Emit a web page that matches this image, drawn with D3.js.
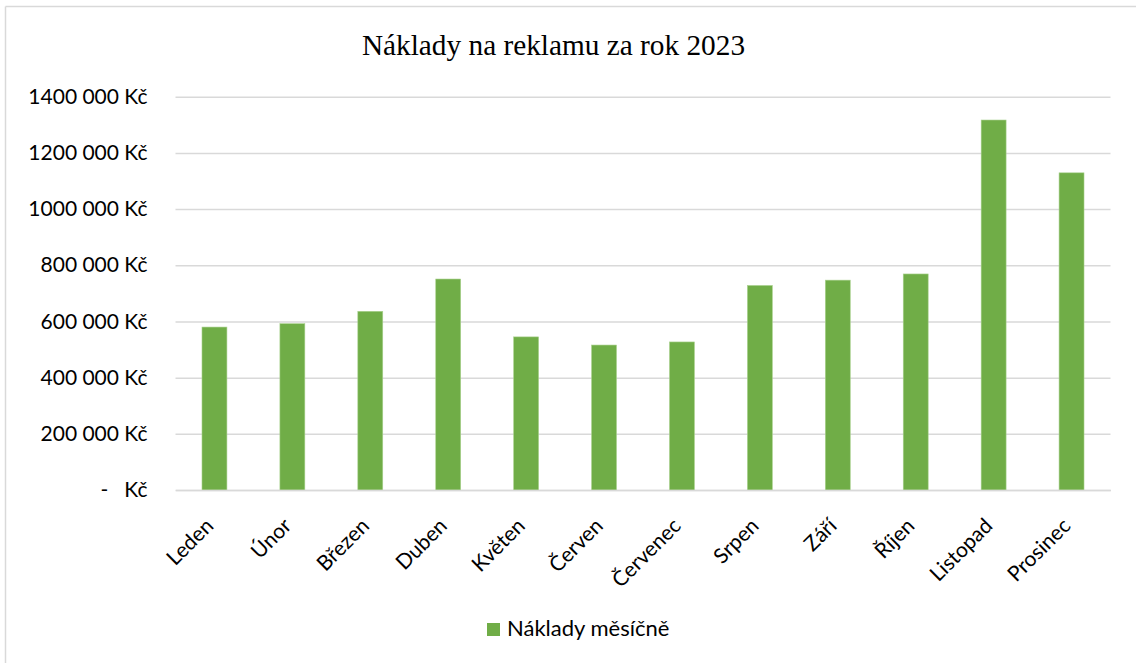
<!DOCTYPE html>
<html>
<head>
<meta charset="utf-8">
<script src="https://cdn.jsdelivr.net/npm/d3@7"></script>
<style>
  html, body { margin: 0; padding: 0; background: #fff; }
  svg text { white-space: pre; }
</style>
</head>
<body>
<svg id="chart" width="1136" height="663"></svg>
<script>
// Monthly advertising costs, 2023
const months = ["Leden", "Únor", "Březen", "Duben", "Květen", "Červen",
                "Červenec", "Srpen", "Září", "Říjen", "Listopad", "Prosinec"];
const costs = [580000, 592000, 636000, 751000, 545000, 516000,
               527000, 728000, 747000, 769000, 1317000, 1129000];
const tickValues = [0, 200000, 400000, 600000, 800000, 1000000, 1200000, 1400000];
const tickLabels = ["-   Kč", "200 000 Kč", "400 000 Kč", "600 000 Kč", "800 000 Kč",
                    "1000 000 Kč", "1200 000 Kč", "1400 000 Kč"];
const chartTitle = "Náklady na reklamu za rok 2023";
const seriesName = "Náklady měsíčně";

const W = 1136, H = 663;
const plot = { left: 175.5, right: 1110.5, top: 96.7, bottom: 490 };
const barColor = "#70AD47";
const gridColor = "#d9d9d9";
const sans = "Lato, 'Open Sans', sans-serif";

const svg = d3.select("#chart");

// chart frame (top and left edges)
svg.append("line").attr("x1", 5.5).attr("x2", W).attr("y1", 6.5).attr("y2", 6.5)
  .attr("stroke", gridColor).attr("stroke-width", 1.5);
svg.append("line").attr("x1", 5.5).attr("x2", 5.5).attr("y1", 6.5).attr("y2", H)
  .attr("stroke", gridColor).attr("stroke-width", 1.5);

const x = d3.scaleBand().domain(months)
  .range([plot.left, plot.right]).paddingInner(0.68).paddingOuter(0.34);
const y = d3.scaleLinear().domain([0, 1400000]).range([plot.bottom, plot.top]);

// horizontal gridlines + value labels
const yAxis = d3.axisLeft(y).tickValues(tickValues)
  .tickSize(-(plot.right - plot.left)).tickPadding(28)
  .tickFormat((d, i) => tickLabels[i]);
const gy = svg.append("g").attr("transform", `translate(${plot.left},0)`).call(yAxis);
gy.select(".domain").remove();
gy.selectAll(".tick line").attr("stroke", gridColor).attr("stroke-width", 1.5);
gy.selectAll(".tick text").attr("fill", "#000").attr("font-family", sans)
  .attr("font-size", 21);

// bars
svg.append("g").selectAll("rect").data(months).join("rect")
  .attr("x", d => x(d))
  .attr("width", x.bandwidth())
  .attr("y", (d, i) => y(costs[i]))
  .attr("height", (d, i) => y(0) - y(costs[i]))
  .attr("fill", barColor)
  .attr("stroke", "#a9d18e").attr("stroke-width", 0.6);

// category axis
const xAxis = d3.axisBottom(x).tickSize(0).tickPadding(0);
const gx = svg.append("g").attr("transform", `translate(0,${plot.bottom})`).call(xAxis);
gx.select(".domain").attr("stroke", gridColor).attr("stroke-width", 1.5);
gx.selectAll(".tick text")
  .attr("fill", "#000").attr("font-family", sans).attr("font-size", 21)
  .attr("text-anchor", "end")
  .attr("dy", "0.35em")
  .attr("transform", "translate(-5,32) rotate(-45)");

// title
svg.append("text").attr("x", 553.5).attr("y", 55)
  .attr("text-anchor", "middle")
  .attr("font-family", "'Liberation Serif', 'Times New Roman', serif")
  .attr("font-size", 29.3).attr("fill", "#000")
  .text(chartTitle);

// legend
const lg = svg.append("g").attr("transform", "translate(487,623)");
lg.append("rect").attr("width", 13).attr("height", 13).attr("fill", barColor);
lg.append("text").attr("x", 20).attr("y", 13)
  .attr("font-family", sans).attr("font-size", 22).attr("fill", "#000")
  .text(seriesName);
</script>
</body>
</html>
